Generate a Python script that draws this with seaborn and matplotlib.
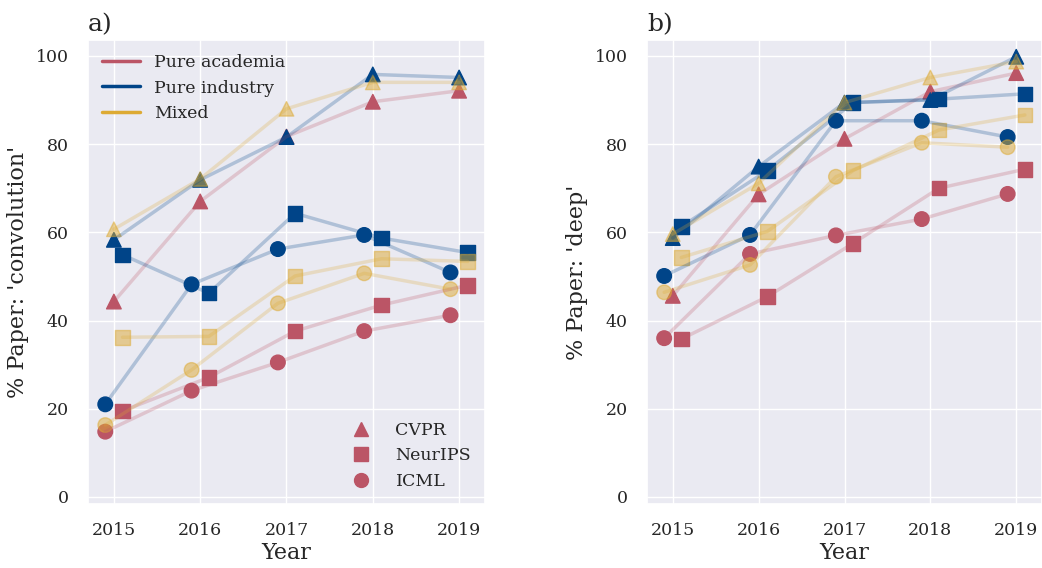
import matplotlib
matplotlib.use("Agg")
import matplotlib.pyplot as plt
import numpy as np
import pandas as pd
import seaborn as sns
from matplotlib.lines import Line2D

years = [2015, 2016, 2017, 2018, 2019]
affiliations = ["Pure academia", "Pure industry", "Mixed"]
venues = ["CVPR", "NeurIPS", "ICML"]

# panel a) % papers mentioning 'convolution'
conv_academia_cvpr = [44.3, 67.0, 81.7, 89.6, 92.1]
conv_academia_neurips = [19.5, 27.1, 37.6, 43.5, 48.0]
conv_academia_icml = [14.8, 24.1, 30.5, 37.6, 41.2]
conv_industry_cvpr = [58.3, 71.9, 81.6, 95.8, 95.1]
conv_industry_neurips = [54.9, 46.2, 64.3, 58.7, 55.4]
conv_industry_icml = [21.0, 48.2, 56.2, 59.4, 50.9]
conv_mixed_cvpr = [60.7, 72.1, 88.0, 94.0, 94.0]
conv_mixed_neurips = [36.2, 36.4, 50.1, 54.0, 53.4]
conv_mixed_icml = [16.3, 28.8, 43.9, 50.7, 47.1]

# panel b) % papers mentioning 'deep'
deep_academia_cvpr = [45.6, 68.6, 81.2, 91.9, 96.1]
deep_academia_neurips = [35.8, 45.4, 57.5, 70.0, 74.3]
deep_academia_icml = [36.0, 55.1, 59.3, 63.0, 68.7]
deep_industry_cvpr = [58.7, 74.9, 89.4, 90.0, 99.8]
deep_industry_neurips = [61.3, 74.0, 89.4, 90.2, 91.4]
deep_industry_icml = [50.1, 59.4, 85.3, 85.3, 81.6]
deep_mixed_cvpr = [59.6, 71.1, 89.4, 95.1, 98.7]
deep_mixed_neurips = [54.3, 60.2, 74.0, 83.2, 86.6]
deep_mixed_icml = [46.4, 52.6, 72.6, 80.3, 79.3]

conv = {
    ("Pure academia", "CVPR"): conv_academia_cvpr,
    ("Pure academia", "NeurIPS"): conv_academia_neurips,
    ("Pure academia", "ICML"): conv_academia_icml,
    ("Pure industry", "CVPR"): conv_industry_cvpr,
    ("Pure industry", "NeurIPS"): conv_industry_neurips,
    ("Pure industry", "ICML"): conv_industry_icml,
    ("Mixed", "CVPR"): conv_mixed_cvpr,
    ("Mixed", "NeurIPS"): conv_mixed_neurips,
    ("Mixed", "ICML"): conv_mixed_icml,
}
deep = {
    ("Pure academia", "CVPR"): deep_academia_cvpr,
    ("Pure academia", "NeurIPS"): deep_academia_neurips,
    ("Pure academia", "ICML"): deep_academia_icml,
    ("Pure industry", "CVPR"): deep_industry_cvpr,
    ("Pure industry", "NeurIPS"): deep_industry_neurips,
    ("Pure industry", "ICML"): deep_industry_icml,
    ("Mixed", "CVPR"): deep_mixed_cvpr,
    ("Mixed", "NeurIPS"): deep_mixed_neurips,
    ("Mixed", "ICML"): deep_mixed_icml,
}

palette = {"Pure academia": "#BB5566", "Pure industry": "#004488", "Mixed": "#DDAA33"}
marker_alpha = {"Pure academia": 1.0, "Pure industry": 1.0, "Mixed": 0.5}
markers = {"CVPR": "^", "NeurIPS": "s", "ICML": "o"}
offsets = {"CVPR": 0.0, "NeurIPS": 0.1, "ICML": -0.1}


def to_frame(d):
    rows = []
    for (aff, ven), vals in d.items():
        for y, v in zip(years, vals):
            rows.append({"year": y, "x": y + offsets[ven], "value": v,
                         "affiliation": aff, "venue": ven})
    return pd.DataFrame(rows)


sns.set_theme(style="darkgrid")
plt.rcParams["font.family"] = ["DejaVu Serif"]
plt.rcParams["text.color"] = "#262626"

fig = plt.figure(figsize=(10.42, 5.68), dpi=100)
W, H = 1042, 568
ax1 = fig.add_axes([88 / W, 1 - 504 / H, 397 / W, 464 / H])
ax2 = fig.add_axes([647 / W, 1 - 504 / H, 395 / W, 464 / H])

for ax, d, ylabel, title in [(ax1, conv, "% Paper: 'convolution'", "a)"),
                             (ax2, deep, "% Paper: 'deep'", "b)")]:
    df = to_frame(d)
    for aff in affiliations:
        sub = df[df.affiliation == aff]
        sns.lineplot(data=sub, x="x", y="value", units="venue", estimator=None,
                     color=palette[aff], alpha=0.25, lw=2.5, legend=False,
                     sort=True, ax=ax)
    for aff in affiliations:
        sub = df[df.affiliation == aff]
        sns.scatterplot(data=sub, x="x", y="value", style="venue",
                        markers=markers, color=palette[aff],
                        edgecolor=palette[aff], linewidth=1.0,
                        alpha=marker_alpha[aff], s=110, legend=False, ax=ax)
    ax.set_xticks(years)
    ax.set_xticklabels([str(y) for y in years])
    ax.set_yticks([0, 20, 40, 60, 80, 100])
    ax.set_ylim(-1.6, 103.6)
    ax.set_xlim(2014.7, 2019.3)
    ax.tick_params(axis="x", labelsize=12.5, pad=7)
    ax.tick_params(axis="y", labelsize=12.5, pad=8)
    ax.set_xlabel("Year", fontsize=16, labelpad=2)
    ax.set_ylabel(ylabel, fontsize=16, labelpad=5)
    ax.set_title(title, loc="left", fontsize=18)

aff_handles = [Line2D([0], [0], color=palette[a], lw=2.5) for a in affiliations]
leg1 = ax1.legend(aff_handles, affiliations, loc="upper left", frameon=False,
                  fontsize=12.5, handlelength=2.2, borderaxespad=0.4)
ven_handles = [Line2D([0], [0], marker=markers[v], color=palette["Pure academia"],
                      lw=0, markersize=10) for v in venues]
leg2 = ax1.legend(ven_handles, venues, loc="lower right", frameon=False,
                  fontsize=12.5, handletextpad=1.0, borderaxespad=0.4)
ax1.add_artist(leg1)

fig.savefig("out.png", dpi=100)
